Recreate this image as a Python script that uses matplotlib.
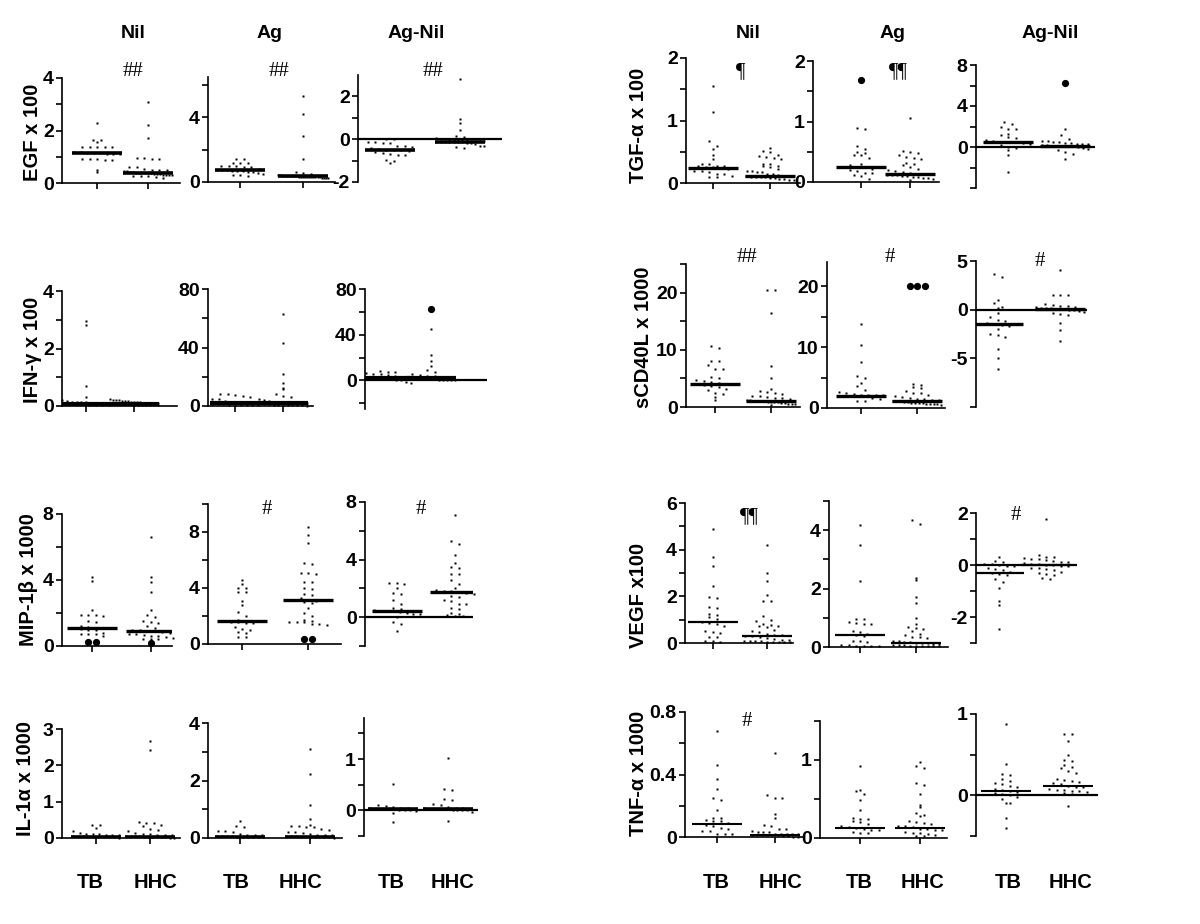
import numpy as np
import matplotlib.pyplot as plt

plt.rcParams['font.family'] = ['Liberation Sans', 'DejaVu Sans']
plt.rcParams['font.weight'] = 'bold'

# ----------------------------
# Data (TB / HHC per condition)
# ----------------------------
conditions = ['Nil', 'Ag', 'Ag-Nil']
groups = ['TB', 'HHC']

egf_nil_tb = [2.27, 1.64, 1.62, 1.55, 1.38, 1.38, 1.38, 1.37, 1.36, 1.2, 1.18, 1.15, 1.15, 1.13, 1.12, 1.1, 1.1, 0.9, 0.9, 0.9, 0.88, 0.88, 0.5, 0.42]
egf_nil_hhc = [3.1, 2.2, 1.72, 0.95, 0.95, 0.93, 0.93, 0.62, 0.6, 0.55, 0.5, 0.5, 0.48, 0.45, 0.45, 0.42, 0.42, 0.4, 0.4, 0.4, 0.38, 0.38, 0.37, 0.35, 0.35, 0.33, 0.32, 0.3, 0.3, 0.3, 0.28, 0.27, 0.25, 0.22, 0.2]
egf_ag_tb = [1.4, 1.4, 1.2, 1.2, 1.2, 1.0, 1.0, 1.0, 0.95, 0.9, 0.8, 0.75, 0.75, 0.72, 0.7, 0.7, 0.68, 0.65, 0.6, 0.55, 0.5, 0.45, 0.42, 0.4]
egf_ag_hhc = [5.35, 4.2, 2.85, 1.4, 0.6, 0.55, 0.5, 0.45, 0.42, 0.4, 0.4, 0.38, 0.38, 0.37, 0.36, 0.35, 0.35, 0.34, 0.33, 0.33, 0.32, 0.32, 0.31, 0.3, 0.3, 0.3, 0.28, 0.28, 0.27, 0.26, 0.25, 0.25]
egf_agnil_tb = [0.03, 0.0, -0.12, -0.15, -0.18, -0.2, -0.3, -0.32, -0.35, -0.4, -0.45, -0.5, -0.5, -0.52, -0.55, -0.6, -0.65, -0.7, -0.72, -0.75, -0.95, -1.0, -1.1]
egf_agnil_hhc = [2.8, 0.93, 0.74, 0.42, 0.15, 0.12, 0.05, 0.02, 0.0, -0.02, -0.05, -0.05, -0.06, -0.08, -0.08, -0.1, -0.1, -0.1, -0.12, -0.12, -0.12, -0.13, -0.15, -0.15, -0.15, -0.18, -0.2, -0.22, -0.3, -0.32, -0.38, -0.42]
egf_medians = [1.15, 0.40, 0.72, 0.37, -0.50, -0.11]

tgf_nil_tb = [1.55, 1.14, 0.68, 0.6, 0.55, 0.45, 0.38, 0.3, 0.3, 0.28, 0.28, 0.27, 0.26, 0.25, 0.24, 0.22, 0.2, 0.2, 0.18, 0.15, 0.15, 0.12, 0.1, 0.1]
tgf_nil_hhc = [0.56, 0.52, 0.5, 0.45, 0.43, 0.42, 0.4, 0.38, 0.3, 0.3, 0.28, 0.27, 0.25, 0.22, 0.2, 0.2, 0.18, 0.17, 0.15, 0.15, 0.13, 0.12, 0.12, 0.12, 0.11, 0.1, 0.1, 0.1, 0.09, 0.08, 0.08, 0.07, 0.06, 0.05, 0.05]
tgf_ag_tb = [0.9, 0.87, 0.6, 0.55, 0.5, 0.48, 0.45, 0.45, 0.4, 0.3, 0.28, 0.25, 0.24, 0.22, 0.2, 0.18, 0.15, 0.15, 0.12, 0.1, 0.05]
tgf_ag_tb_big = [1.69]
tgf_ag_hhc = [1.05, 0.52, 0.5, 0.48, 0.45, 0.42, 0.4, 0.38, 0.32, 0.3, 0.28, 0.25, 0.22, 0.2, 0.18, 0.16, 0.15, 0.14, 0.13, 0.13, 0.12, 0.12, 0.11, 0.1, 0.1, 0.08, 0.08, 0.07, 0.06, 0.05, 0.04]
tgf_agnil_tb = [2.45, 2.2, 2.0, 1.8, 1.8, 1.3, 1.2, 1.0, 0.9, 0.7, 0.6, 0.5, 0.5, 0.45, 0.4, 0.3, 0.2, 0.0, -0.1, -0.3, -0.8, -2.45]
tgf_agnil_hhc = [1.8, 1.2, 0.8, 0.6, 0.6, 0.5, 0.5, 0.4, 0.35, 0.3, 0.3, 0.25, 0.2, 0.15, 0.12, 0.1, 0.1, 0.08, 0.05, 0.0, -0.1, -0.2, -0.3, -0.5, -0.7, -1.2]
tgf_agnil_hhc_big = [6.2]
tgf_medians = [0.24, 0.12, 0.24, 0.13, 0.49, 0.10]

ifn_nil_tb = [2.96, 2.83, 0.7, 0.3, 0.2, 0.18, 0.15, 0.15, 0.14, 0.13, 0.12, 0.12, 0.1, 0.1, 0.1, 0.08, 0.08, 0.07, 0.06, 0.05, 0.05, 0.04, 0.03]
ifn_nil_hhc = [0.25, 0.22, 0.2, 0.2, 0.18, 0.18, 0.16, 0.15, 0.15, 0.14, 0.13, 0.12, 0.12, 0.1, 0.1, 0.1, 0.09, 0.08, 0.08, 0.07, 0.07, 0.06, 0.06, 0.05, 0.05, 0.05, 0.04, 0.04, 0.03, 0.03]
ifn_ag_tb = [8.5, 8, 7.5, 6.5, 6, 5, 4.5, 3.5, 3, 2.5, 2, 2, 1.8, 1.5, 1.5, 1.2, 1, 1, 0.8, 0.6, 0.5, 0.4]
ifn_ag_hhc = [62.9, 43.2, 22, 16, 12.5, 11.5, 8, 7, 6, 5, 4, 3.5, 3, 3, 2.5, 2.5, 2, 2, 2, 1.8, 1.5, 1.5, 1.2, 1, 1, 1, 0.8, 0.6, 0.5, 0.4, 0.3]
ifn_agnil_tb = [8, 7.5, 7, 6.5, 6, 5.5, 5, 4, 3, 2.5, 2, 2, 1.5, 1.5, 1, 1, 0.5, 0, -1, -2]
ifn_agnil_hhc = [44.6, 22, 16.7, 12.3, 9.4, 7.5, 6, 5, 4, 3.5, 3, 2.5, 2, 2, 1.8, 1.5, 1.5, 1.2, 1, 1, 0.8, 0.5, 0.5, 0.3, 0]
ifn_agnil_hhc_big = [62.5]
ifn_medians = [0.08, 0.08, 2.0, 2.0, 2.0, 2.0]

cd40_nil_tb = [10.6, 10.4, 8.1, 8.0, 7.3, 6.6, 6.6, 5.3, 5.0, 4.8, 4.6, 4.4, 4.2, 4.0, 4.0, 3.8, 3.6, 3.5, 3.2, 3.0, 2.5, 2.2, 1.8, 1.2]
cd40_nil_hhc = [20.5, 20.5, 16.5, 7.2, 5.0, 3.2, 2.8, 2.6, 2.4, 2.2, 2.0, 2.0, 1.8, 1.6, 1.5, 1.4, 1.3, 1.2, 1.1, 1.0, 1.0, 1.0, 0.9, 0.9, 0.8, 0.8, 0.7, 0.7, 0.6, 0.5, 0.5, 0.4]
cd40_ag_tb = [13.8, 10.4, 7.5, 5.3, 5.0, 4.1, 3.6, 3.0, 2.6, 2.5, 2.3, 2.2, 2.2, 2.1, 2.1, 2.0, 2.0, 2.0, 1.9, 1.6, 1.4, 1.2, 1.2]
cd40_ag_hhc = [3.9, 3.7, 3.5, 3.3, 2.8, 2.5, 2.4, 2.2, 2.0, 1.8, 1.6, 1.5, 1.4, 1.3, 1.3, 1.2, 1.1, 1.1, 1.0, 1.0, 0.9, 0.9, 0.8, 0.8, 0.7, 0.7, 0.6, 0.6, 0.5]
cd40_ag_hhc_big = [20, 20, 20]
cd40_agnil_tb = [3.7, 3.4, 1.0, 0.7, 0.3, 0.2, -0.3, -0.8, -1.1, -1.2, -1.4, -1.5, -1.6, -1.7, -2.0, -2.5, -2.6, -2.8, -4.05, -5.0, -6.1]
cd40_agnil_hhc = [4.1, 1.5, 1.5, 1.5, 0.6, 0.5, 0.4, 0.35, 0.3, 0.25, 0.2, 0.2, 0.15, 0.1, 0.1, 0.05, 0.0, 0.0, -0.1, -0.2, -0.3, -0.4, -0.5, -1.4, -2.1, -3.2]
cd40_medians = [4.0, 1.0, 2.0, 1.1, -1.45, 0.10]

mip_nil_tb = [4.16, 3.94, 2.2, 1.9, 1.85, 1.85, 1.8, 1.5, 1.45, 1.2, 1.15, 1.1, 1.1, 1.05, 1.0, 0.95, 0.8, 0.75, 0.7, 0.7, 0.6]
mip_nil_tb_big = [0.25, 0.25]
mip_nil_hhc = [6.58, 4.16, 3.9, 3.3, 2.2, 1.9, 1.77, 1.5, 1.45, 1.4, 1.2, 1.1, 1.0, 0.95, 0.9, 0.9, 0.85, 0.8, 0.75, 0.7, 0.65, 0.6, 0.6, 0.55, 0.5, 0.45, 0.45, 0.4, 0.1]
mip_nil_hhc_big = [0.2]
mip_ag_tb = [4.55, 4.28, 4.0, 4.0, 3.7, 3.7, 3.06, 2.8, 2.3, 2.0, 1.7, 1.65, 1.6, 1.55, 1.5, 1.5, 1.2, 1.1, 1.0, 0.85, 0.8, 0.5, 0.5]
mip_ag_hhc = [8.33, 7.8, 7.2, 5.8, 5.7, 5.1, 5.05, 5.0, 4.45, 4.4, 4.0, 3.9, 3.6, 3.5, 3.3, 3.15, 3.1, 3.0, 2.9, 2.6, 2.2, 2.0, 1.7, 1.65, 1.6, 1.6, 1.55, 1.4, 1.4, 1.35]
mip_ag_hhc_big = [0.38, 0.38]
mip_agnil_tb = [2.37, 2.35, 2.3, 2.0, 1.7, 1.6, 1.2, 0.9, 0.65, 0.6, 0.5, 0.45, 0.42, 0.4, 0.35, 0.3, 0.25, 0.2, 0.0, -0.3, -0.5, -0.93]
mip_agnil_hhc = [7.1, 5.3, 5.05, 4.3, 3.77, 3.5, 3.4, 3.0, 2.98, 2.56, 2.3, 2.0, 1.9, 1.85, 1.8, 1.75, 1.7, 1.6, 1.5, 1.4, 1.2, 1.15, 0.93, 0.9, 0.65, 0.6, 0.3, 0.25, 0.15, 0.1, 0.05]
mip_medians = [1.10, 0.89, 1.65, 3.13, 0.42, 1.75]

vegf_nil_tb = [4.9, 3.69, 3.31, 2.43, 1.96, 1.94, 1.53, 1.5, 1.26, 1.2, 1.1, 1.05, 0.89, 0.85, 0.8, 0.75, 0.5, 0.48, 0.45, 0.26, 0.25, 0.07, 0.07, 0.05]
vegf_nil_hhc = [4.21, 3.0, 2.64, 2.04, 1.81, 1.8, 1.14, 0.97, 0.95, 0.8, 0.78, 0.75, 0.72, 0.7, 0.55, 0.5, 0.48, 0.4, 0.35, 0.33, 0.3, 0.28, 0.25, 0.2, 0.18, 0.15, 0.12, 0.1, 0.1, 0.08, 0.07, 0.06, 0.05, 0.05, 0.04, 0.03]
vegf_ag_tb = [4.17, 3.49, 2.26, 0.97, 0.95, 0.85, 0.82, 0.8, 0.8, 0.55, 0.5, 0.45, 0.4, 0.38, 0.2, 0.19, 0.18, 0.06, 0.06, 0.05, 0.05, 0.05, 0.04]
vegf_ag_hhc = [4.34, 4.2, 2.37, 2.29, 1.71, 1.49, 0.99, 0.8, 0.68, 0.65, 0.62, 0.55, 0.45, 0.4, 0.35, 0.34, 0.3, 0.22, 0.2, 0.18, 0.16, 0.15, 0.14, 0.12, 0.1, 0.1, 0.08, 0.07, 0.06, 0.05, 0.05, 0.04, 0.04, 0.03, 0.03]
vegf_agnil_tb = [0.32, 0.15, 0.1, 0.05, 0.02, 0.0, -0.02, -0.05, -0.1, -0.15, -0.2, -0.25, -0.3, -0.35, -0.4, -0.55, -0.65, -0.88, -1.39, -1.52, -2.45]
vegf_agnil_hhc = [1.77, 0.37, 0.3, 0.3, 0.28, 0.25, 0.22, 0.2, 0.15, 0.12, 0.1, 0.08, 0.05, 0.03, 0.0, 0.0, -0.02, -0.05, -0.1, -0.12, -0.15, -0.2, -0.25, -0.3, -0.35, -0.4, -0.5, -0.53]
vegf_medians = [0.89, 0.29, 0.42, 0.15, -0.30, 0.0]

il1a_nil_tb = [0.36, 0.35, 0.28, 0.18, 0.15, 0.12, 0.1, 0.1, 0.08, 0.08, 0.07, 0.06, 0.05, 0.05, 0.04, 0.04, 0.03, 0.03, 0.02, 0.02, 0.01]
il1a_nil_hhc = [2.68, 2.42, 0.45, 0.42, 0.4, 0.35, 0.33, 0.25, 0.22, 0.18, 0.15, 0.12, 0.1, 0.08, 0.08, 0.07, 0.06, 0.05, 0.05, 0.05, 0.04, 0.04, 0.03, 0.03, 0.02, 0.02, 0.01, 0.01]
il1a_ag_tb = [0.6, 0.42, 0.38, 0.25, 0.23, 0.22, 0.15, 0.12, 0.1, 0.1, 0.08, 0.08, 0.07, 0.06, 0.05, 0.05, 0.04, 0.03, 0.02, 0.02]
il1a_ag_hhc = [3.09, 2.22, 1.16, 0.67, 0.45, 0.43, 0.42, 0.4, 0.38, 0.3, 0.28, 0.22, 0.2, 0.18, 0.15, 0.12, 0.1, 0.1, 0.08, 0.08, 0.06, 0.05, 0.05, 0.04, 0.03, 0.03, 0.02, 0.02, 0.01]
il1a_agnil_tb = [0.51, 0.1, 0.08, 0.06, 0.05, 0.05, 0.04, 0.03, 0.03, 0.02, 0.02, 0.01, 0.0, 0.0, -0.02, -0.05, -0.22]
il1a_agnil_hhc = [1.03, 0.41, 0.4, 0.22, 0.2, 0.12, 0.1, 0.06, 0.05, 0.05, 0.04, 0.03, 0.03, 0.02, 0.02, 0.02, 0.01, 0.01, 0.0, 0.0, -0.03, -0.2]
il1a_medians = [0.03, 0.03, 0.03, 0.04, 0.02, 0.02]

tnf_nil_tb = [0.68, 0.46, 0.37, 0.31, 0.25, 0.24, 0.17, 0.12, 0.12, 0.11, 0.1, 0.1, 0.09, 0.08, 0.07, 0.06, 0.05, 0.04, 0.04, 0.02, 0.02, 0.02]
tnf_nil_hhc = [0.54, 0.27, 0.25, 0.25, 0.15, 0.12, 0.08, 0.07, 0.05, 0.05, 0.04, 0.03, 0.03, 0.03, 0.02, 0.02, 0.02, 0.02, 0.02, 0.015, 0.01, 0.01, 0.01, 0.01, 0.01, 0.005, 0.005, 0.0, 0.0]
tnf_ag_tb = [0.92, 0.62, 0.6, 0.56, 0.49, 0.36, 0.26, 0.25, 0.24, 0.22, 0.2, 0.18, 0.15, 0.14, 0.13, 0.12, 0.1, 0.1, 0.08, 0.07, 0.06]
tnf_ag_hhc = [0.98, 0.92, 0.9, 0.7, 0.68, 0.56, 0.42, 0.4, 0.32, 0.3, 0.28, 0.22, 0.2, 0.19, 0.18, 0.16, 0.15, 0.14, 0.12, 0.11, 0.1, 0.1, 0.08, 0.07, 0.06, 0.05, 0.04, 0.03, 0.02]
tnf_agnil_tb = [0.88, 0.38, 0.26, 0.25, 0.2, 0.18, 0.15, 0.14, 0.12, 0.1, 0.08, 0.06, 0.05, 0.04, 0.03, 0.02, 0.0, -0.02, -0.05, -0.09, -0.1, -0.28, -0.4]
tnf_agnil_hhc = [0.76, 0.75, 0.67, 0.49, 0.43, 0.42, 0.37, 0.35, 0.33, 0.3, 0.28, 0.2, 0.19, 0.18, 0.17, 0.15, 0.14, 0.12, 0.1, 0.1, 0.08, 0.07, 0.06, 0.05, 0.05, 0.04, 0.03, 0.02, -0.13]
tnf_medians = [0.083, 0.015, 0.13, 0.13, 0.05, 0.12]

# y-axis labels and significance marks
ylabels = {'egf': 'EGF x 100', 'tgf': 'TGF-α x 100', 'ifn': 'IFN-γ x 100', 'cd40': 'sCD40L x 1000',
           'mip': 'MIP-1β x 1000', 'vegf': 'VEGF x100', 'il1a': 'IL-1α x 1000', 'tnf': 'TNF-α x 1000'}
sig_marks = {('egf', 0): '##', ('egf', 1): '##', ('egf', 2): '##',
             ('tgf', 0): '¶', ('tgf', 1): '¶¶',
             ('cd40', 0): '##', ('cd40', 1): '#', ('cd40', 2): '#',
             ('mip', 1): '#', ('mip', 2): '#',
             ('vegf', 0): '¶¶', ('vegf', 2): '#',
             ('tnf', 0): '#'}

# ----------------------------
# Layout (figure pixels): left, right, top, bottom, TB x, HHC x
# ----------------------------
FIG_W, FIG_H = 1200, 924
geom = {
    ('egf', 0): (62, 180, 78, 183, 97, 148), ('egf', 1): (208, 335, 77, 182, 240, 303),
    ('egf', 2): (358, 502, 75, 182, 390, 460),
    ('tgf', 0): (686, 800, 58, 183, 713, 770), ('tgf', 1): (813, 939, 61, 182, 861, 910),
    ('tgf', 2): (976, 1095, 65, 188, 1008, 1065),
    ('ifn', 0): (62, 177, 291, 406, 86, 134), ('ifn', 1): (208, 313, 289, 406, 235, 283),
    ('ifn', 2): (365, 487, 289, 409, 388, 431),
    ('cd40', 0): (686, 800, 264, 407, 715, 771), ('cd40', 1): (827, 945, 262, 408, 861, 917),
    ('cd40', 2): (976, 1087, 261, 407, 998, 1060),
    ('mip', 0): (62, 172, 514, 646, 92, 151), ('mip', 1): (208, 341, 504, 644, 242, 308),
    ('mip', 2): (365, 473, 502, 646, 397, 455),
    ('vegf', 0): (685, 793, 503, 643, 713, 767), ('vegf', 1): (829, 948, 501, 647, 860, 916),
    ('vegf', 2): (976, 1077, 513, 643, 999, 1046),
    ('il1a', 0): (62, 180, 729, 838, 96, 150), ('il1a', 1): (208, 342, 723, 838, 240, 310),
    ('il1a', 2): (364, 478, 718, 836, 393, 448),
    ('tnf', 0): (685, 804, 712, 837, 717, 775), ('tnf', 1): (820, 947, 721, 838, 860, 920),
    ('tnf', 2): (976, 1098, 714, 836, 1006, 1068),
}
sig_pos = {('egf', 0): (133, 72), ('egf', 1): (279, 72), ('egf', 2): (433, 72),
           ('tgf', 0): (741, 72), ('tgf', 1): (898, 72),
           ('cd40', 0): (747, 258), ('cd40', 1): (890, 258), ('cd40', 2): (1040, 262),
           ('mip', 1): (267, 510), ('mip', 2): (421, 510),
           ('vegf', 0): (749, 517), ('vegf', 2): (1016, 515),
           ('tnf', 0): (747, 721)}
# y range, labelled ticks, minor ticks
yaxes = {
    ('egf', 0): ((0, 4), [0, 2, 4], [1, 3]), ('egf', 1): ((0, 6.5), [0, 4], [2, 6]),
    ('egf', 2): ((-2, 3), [-2, 0, 2], [-1, 1]),
    ('tgf', 0): ((0, 2), [0, 1, 2], [0.5, 1.5]), ('tgf', 1): ((0, 2), [0, 1, 2], [0.5, 1.5]),
    ('tgf', 2): ((-4, 8), [0, 4, 8], [-4, -2, 2, 6]),
    ('ifn', 0): ((0, 4), [0, 2, 4], [1, 3]), ('ifn', 1): ((0, 80), [0, 40, 80], [20, 60]),
    ('ifn', 2): ((-25, 80), [0, 40, 80], [-20, 20, 60]),
    ('cd40', 0): ((0, 25), [0, 10, 20], [5, 15, 25]), ('cd40', 1): ((0, 24), [0, 10, 20], [5, 15]),
    ('cd40', 2): ((-10, 5), [-5, 0, 5], [-10]),
    ('mip', 0): ((0, 8), [0, 4, 8], [2, 6]), ('mip', 1): ((0, 10), [0, 4, 8], [2, 6, 10]),
    ('mip', 2): ((-2, 8), [0, 4, 8], [-2, 2, 6]),
    ('vegf', 0): ((0, 6), [0, 2, 4, 6], [1, 3, 5]), ('vegf', 1): ((0, 5), [0, 2, 4], [1, 3, 5]),
    ('vegf', 2): ((-3, 2), [-2, 0, 2], [-3, -1, 1]),
    ('il1a', 0): ((0, 3), [0, 1, 2, 3], []), ('il1a', 1): ((0, 4), [0, 2, 4], [1, 3]),
    ('il1a', 2): ((-0.5, 1.8), [0, 1], [-0.5, 0.5, 1.5]),
    ('tnf', 0): ((0, 0.8), [0, 0.4, 0.8], [0.2, 0.6]), ('tnf', 1): ((0, 1.5), [0, 1], [0.5, 1.5]),
    ('tnf', 2): ((-0.5, 1), [0, 1], [-0.5, 0.5]),
}
median_lw = {'egf': 2.6, 'tgf': 2.4, 'ifn': 3.0, 'cd40': 2.4, 'mip': 2.4, 'vegf': 1.6, 'il1a': 2.6, 'tnf': 1.5}
ylabel_pos = {'egf': (32, 132), 'ifn': (32, 350), 'mip': (28, 580), 'il1a': (26, 778),
              'tgf': (639, 125), 'cd40': (643, 337), 'vegf': (639, 595), 'tnf': (639, 773)}
title_x = [133, 270, 416, 748, 893, 1050]
group_x = [90, 155, 236, 300, 391, 452, 716, 780, 859, 923, 1008, 1070]

g = globals()
fig = plt.figure(figsize=(FIG_W / 100, FIG_H / 100), dpi=100)


def fig_text(x, y, s, **kw):
    fig.text(x / FIG_W, 1 - y / FIG_H, s, ha='center', va='center', **kw)


def swarm_x(vals, cx, ppu, row_px=5.0, step=7.5, max_w=52.0):
    # spread points sharing a pixel row sideways, column-scatter style
    vals = np.asarray(vals, float)
    rows = np.round(vals * ppu / row_px).astype(int)
    xs = np.full(len(vals), float(cx))
    for r in np.unique(rows):
        idx = np.flatnonzero(rows == r)
        n = len(idx)
        s = min(step, max_w / n) if n > 1 else step
        xs[idx] = cx + (np.arange(n) - (n - 1) / 2) * s
    return xs


keys = ['egf', 'tgf', 'ifn', 'cd40', 'mip', 'vegf', 'il1a', 'tnf']
suffix = ['nil', 'ag', 'agnil']

for key in keys:
    meds = g[key + '_medians']
    for ci, suf in enumerate(suffix):
        l, r, t, b, xtb, xhhc = geom[(key, ci)]
        ylim, major, minor = yaxes[(key, ci)]
        ax = fig.add_axes([l / FIG_W, 1 - b / FIG_H, (r - l) / FIG_W, (b - t) / FIG_H])
        ax.set_xlim(l, r)
        ax.set_ylim(*ylim)
        ax.patch.set_visible(False)
        ppu = (b - t) / (ylim[1] - ylim[0])

        for gi, (grp, cx) in enumerate(zip(['tb', 'hhc'], [xtb, xhhc])):
            vals = g[f'{key}_{suf}_{grp}']
            ax.plot(swarm_x(vals, cx, ppu), vals, 's', ms=2.1, color='k', mec='none', clip_on=False)
            big = g.get(f'{key}_{suf}_{grp}_big')
            if big:
                ax.plot(swarm_x(big, cx, ppu, step=7.5), big, 'o', ms=5.2, color='k', mec='none', clip_on=False)
            m = meds[ci * 2 + gi]
            ax.plot([cx - 25, cx + 25], [m, m], color='k', lw=median_lw[key], solid_capstyle='butt')

        for s in ('top', 'right'):
            ax.spines[s].set_visible(False)
        ax.spines['left'].set_linewidth(1.2)
        ax.set_yticks(major)
        ax.set_yticks(minor, minor=True)
        ax.set_yticklabels([f'{v:g}' for v in major])
        ax.tick_params(axis='y', which='both', direction='out', length=4, width=1.2, pad=2, labelsize=14)
        if ci == 2:
            ax.spines['bottom'].set_visible(False)
            ax.set_xticks([])
            ax.axhline(0, color='k', lw=1.6)
        else:
            ax.spines['bottom'].set_linewidth(1.2)
            ax.set_xticks([xtb, xhhc])
            ax.set_xticklabels([])
            ax.tick_params(axis='x', direction='out', length=4, width=1.2)

        if (key, ci) in sig_marks:
            sx, sy = sig_pos[(key, ci)]
            fig_text(sx, sy, sig_marks[(key, ci)], family='Liberation Serif', weight='normal', fontsize=15)

    x, y = ylabel_pos[key]
    fig_text(x, y, ylabels[key], rotation=90, fontsize=14.5)

# column titles and group labels
for x, c in zip(title_x, conditions * 2):
    fig_text(x, 33, c, fontsize=14)
for x, lab in zip(group_x, groups * 6):
    fig_text(x, 883, lab, fontsize=14.5)

fig.savefig('out.png', dpi=100, facecolor='white')
